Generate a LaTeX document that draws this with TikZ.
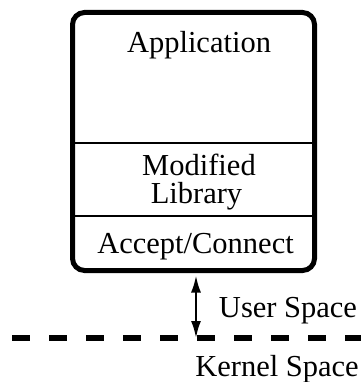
\documentclass[tikz,border=0pt]{standalone}
\usepackage{fontspec}
\setmainfont{Liberation Serif}
\usetikzlibrary{arrows.meta,positioning}

\begin{document}
\begin{tikzpicture}[x=1pt, y=-1pt,
   lbl/.style={anchor=base, inner sep=0pt, font=\fontsize{30.5}{30}\selectfont}]
   \useasboundingbox (0,0) rectangle (361,382);
   % the process box
   \node[draw, line width=5pt, rounded corners=12pt, minimum width=242pt, minimum height=258pt,
         inner sep=0pt] (app) at (193.5,141.5) {};
   \foreach \yy in {143, 216} % layers inside the box
   \draw[line width=2pt] (app.west |- 0,\yy) -- (app.east |- 0,\yy);
   \foreach \pos/\name/\txt in {{(199,53)/appl/Application}, {(199,175)/modf/Modified},
         {(196.5,203)/libr/Library}, {(195.5,253)/acco/{Accept/Connect}},
         {(288,317)/user/User Space}, {(277,376)/kern/Kernel Space}}
   \node[lbl] (\name) at \pos {\txt};
   % boundary between user and kernel
   \coordinate (gap) at (196,338);
   \draw[line width=2.2pt, {Latex[length=17pt,width=10pt]}-{Latex[length=17pt,width=10pt]},
         shorten <=2.5pt] (app.south -| gap) -- (gap);
   \draw[line width=6pt, dash pattern=on 18pt off 19pt] (12,338) -- (361,338);
\end{tikzpicture}
\end{document}
